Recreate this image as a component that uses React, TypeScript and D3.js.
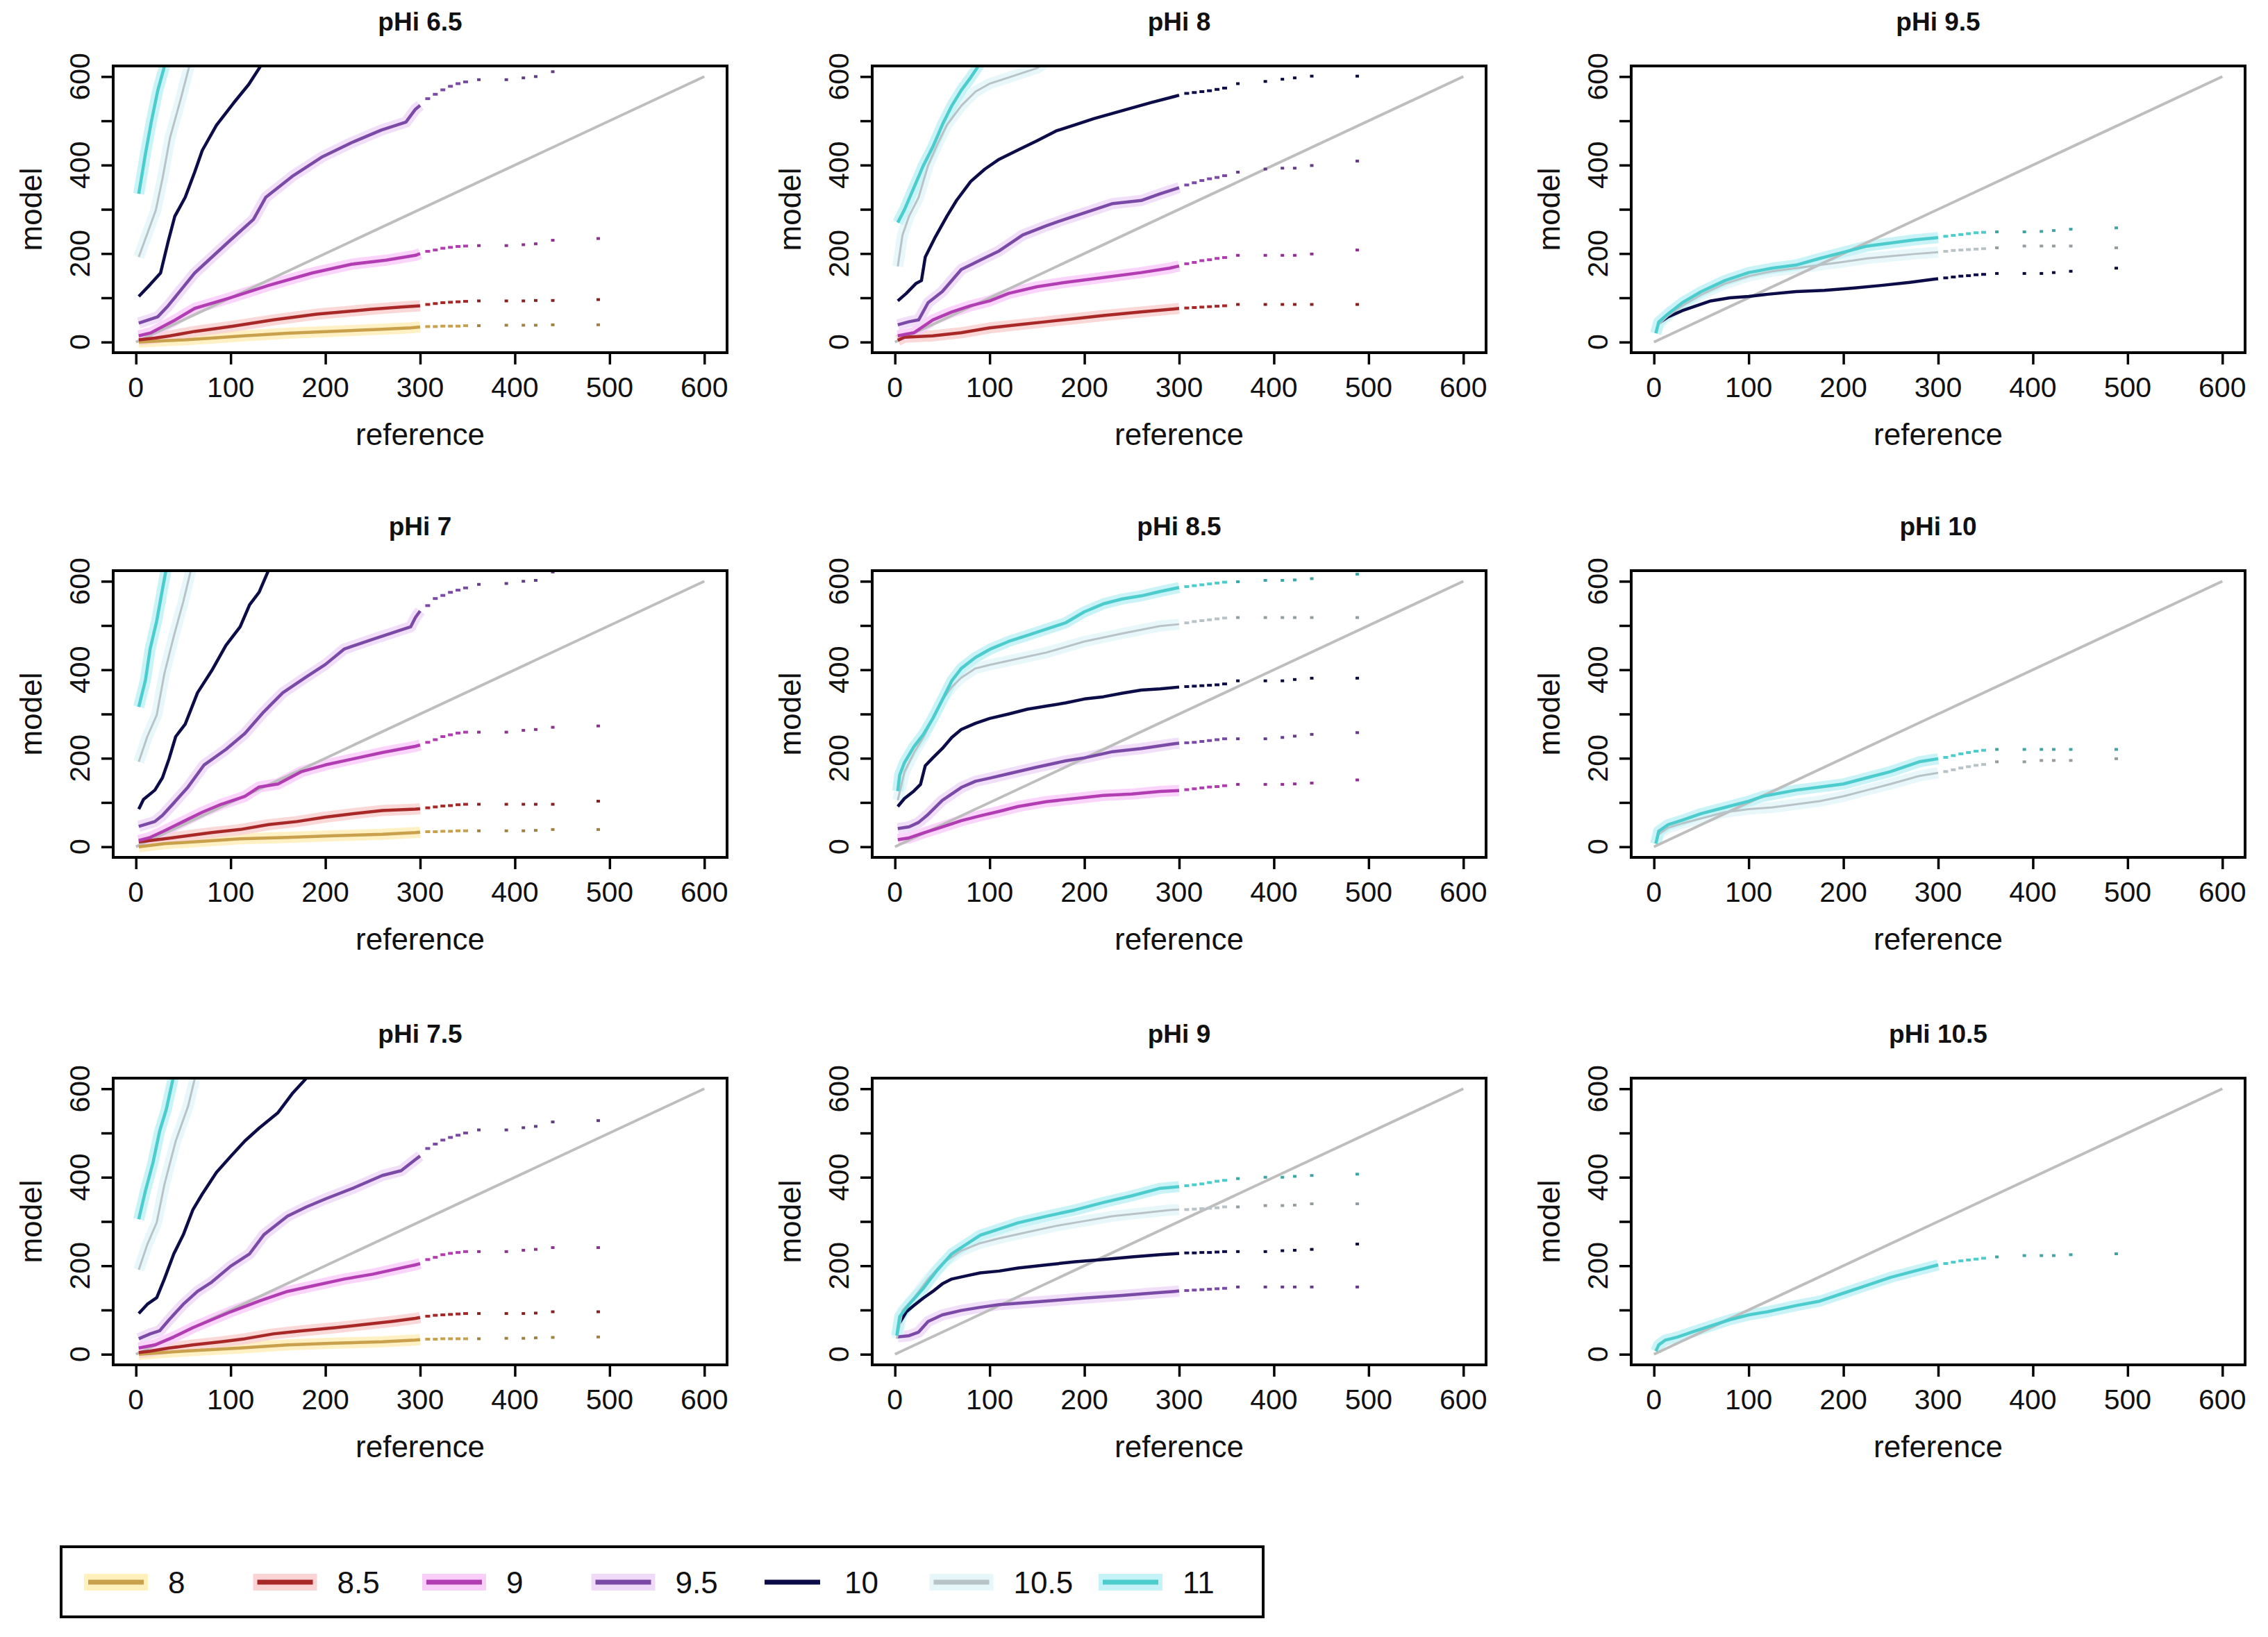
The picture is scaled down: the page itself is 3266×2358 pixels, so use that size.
import * as d3 from "d3";
import { useEffect, useRef } from "react";

type Pt = [number, number];
interface Series {
  ph: string;
  pts: Pt[];
  tail?: number[];
}

// pH levels shown in the legend and their colours
const phLevels = ["8", "8.5", "9", "9.5", "10", "10.5", "11"];
const lineColors = ["#C9A04C", "#A82828", "#B23CB2", "#7A4AA6", "#0C0C48", "#B8C3C8", "#4CCCCC"];
const haloColors = ["#FFF0BC", "#FAD4D4", "#F9CFF9", "#EFDAF7", "", "#E6F7FA", "#C4F2F6"];

// reference values of the sparse points beyond the solid part of each curve
const tailRef = [308, 316, 324, 332, 340, 348, 362, 391, 409, 422, 440, 488];

const xTicks = [0, 100, 200, 300, 400, 500, 600];
const yTicks = [0, 100, 200, 300, 400, 500, 600];
const yLabels = [0, 200, 400, 600];
const diagonal: Pt[] = [[0, 0], [600, 600]];

const pHi65: Series[] = [
  { ph: "8", pts: [[3, 0], [30, 3], [52, 5], [80, 9], [114, 14], [160, 20], [217, 25], [260, 29], [290, 32], [300, 34]], tail: [35, 35, 36, 36, 36, 37, 37, 38, 38, 38, 39, 39] },
  { ph: "8.5", pts: [[3, 5], [20, 9], [36, 14], [62, 24], [103, 36], [145, 50], [191, 63], [248, 74], [280, 79], [300, 82]], tail: [85, 87, 89, 90, 91, 92, 93, 93, 93, 94, 94, 96] },
  { ph: "9", pts: [[3, 14], [16, 21], [40, 48], [62, 76], [98, 99], [140, 128], [186, 156], [228, 176], [264, 185], [295, 196], [300, 200]], tail: [205, 208, 212, 214, 216, 217, 218, 218, 220, 222, 230, 234] },
  { ph: "9.5", pts: [[3, 43], [23, 57], [34, 82], [62, 156], [98, 227], [124, 277], [137, 327], [166, 376], [197, 419], [228, 451], [259, 479], [285, 497], [295, 526], [300, 535]], tail: [550, 560, 570, 578, 584, 588, 593, 593, 597, 600, 611, 624] },
  { ph: "10", pts: [[3, 103], [15, 130], [26, 156], [34, 227], [41, 284], [52, 327], [62, 384], [70, 433], [85, 490], [103, 540], [119, 582], [132, 625], [140, 660]] },
  { ph: "10.5", pts: [[3, 192], [12, 245], [21, 298], [28, 369], [36, 462], [47, 547], [57, 629], [62, 670]] },
  { ph: "11", pts: [[3, 335], [10, 425], [16, 495], [23, 568], [31, 630], [35, 670]] },
];

const pHi7: Series[] = [
  { ph: "8", pts: [[3, 0], [30, 7], [60, 11], [110, 18], [160, 21], [210, 25], [260, 28], [295, 32], [300, 33]], tail: [34, 34, 35, 35, 36, 36, 36, 36, 36, 37, 39, 39] },
  { ph: "8.5", pts: [[3, 11], [15, 14], [30, 18], [55, 25], [80, 32], [110, 39], [140, 50], [170, 57], [200, 67], [230, 75], [260, 82], [295, 85], [300, 86]], tail: [88, 90, 92, 93, 95, 96, 96, 96, 96, 96, 96, 103] },
  { ph: "9", pts: [[3, 14], [15, 21], [30, 36], [50, 57], [70, 78], [90, 96], [115, 114], [130, 135], [150, 142], [175, 170], [200, 185], [230, 199], [260, 213], [295, 227], [300, 230]], tail: [236, 242, 249, 253, 257, 259, 259, 259, 263, 265, 270, 273] },
  { ph: "9.5", pts: [[3, 46], [20, 57], [28, 71], [40, 99], [55, 135], [72, 185], [95, 220], [115, 256], [135, 305], [155, 348], [180, 384], [200, 412], [220, 447], [250, 469], [270, 483], [290, 497], [295, 518], [300, 533]], tail: [545, 561, 568, 575, 580, 585, 593, 595, 600, 602, 621, 626] },
  { ph: "10", pts: [[3, 85], [8, 107], [20, 128], [28, 156], [35, 199], [42, 249], [52, 277], [65, 348], [80, 398], [95, 455], [110, 497], [120, 547], [130, 575], [140, 625], [145, 660]] },
  { ph: "10.5", pts: [[3, 192], [12, 249], [22, 298], [30, 391], [40, 476], [50, 554], [58, 625], [62, 660]] },
  { ph: "11", pts: [[3, 316], [10, 376], [15, 447], [22, 511], [28, 582], [32, 628], [35, 660]] },
];

const pHi75: Series[] = [
  { ph: "8", pts: [[3, 0], [50, 7], [110, 14], [160, 21], [210, 25], [260, 28], [295, 32], [300, 33]], tail: [34, 34, 35, 35, 35, 35, 35, 36, 36, 37, 38, 39] },
  { ph: "8.5", pts: [[3, 4], [15, 7], [35, 14], [60, 21], [90, 28], [115, 35], [145, 46], [175, 53], [210, 60], [240, 67], [270, 74], [295, 81], [300, 83]], tail: [86, 88, 89, 90, 91, 92, 92, 92, 92, 93, 96, 96] },
  { ph: "9", pts: [[3, 14], [20, 21], [40, 39], [60, 60], [80, 78], [100, 96], [130, 120], [160, 142], [190, 156], [220, 170], [250, 181], [280, 195], [295, 202], [300, 205]], tail: [214, 219, 225, 228, 230, 232, 232, 232, 235, 237, 241, 241] },
  { ph: "9.5", pts: [[3, 35], [15, 46], [25, 53], [35, 78], [50, 113], [65, 142], [80, 163], [100, 199], [120, 227], [135, 270], [160, 312], [180, 333], [200, 351], [230, 376], [260, 404], [280, 415], [295, 440], [300, 448]], tail: [465, 475, 484, 490, 495, 500, 507, 507, 512, 515, 525, 528] },
  { ph: "10", pts: [[3, 92], [12, 113], [22, 128], [30, 170], [40, 227], [50, 270], [60, 326], [70, 362], [85, 411], [100, 447], [115, 482], [130, 511], [150, 546], [165, 589], [180, 624], [190, 660]] },
  { ph: "10.5", pts: [[3, 191], [12, 248], [22, 298], [30, 383], [42, 482], [55, 560], [63, 631], [66, 660]] },
  { ph: "11", pts: [[3, 305], [10, 369], [18, 433], [25, 504], [32, 553], [40, 631], [42, 660]] },
];

const pHi8: Series[] = [
  { ph: "8.5", pts: [[3, 4], [10, 11], [40, 14], [70, 21], [100, 32], [130, 39], [160, 46], [190, 53], [220, 60], [260, 68], [295, 75], [300, 76]], tail: [77, 78, 79, 80, 81, 82, 85, 85, 85, 85, 85, 85] },
  { ph: "9", pts: [[3, 14], [20, 21], [40, 50], [60, 68], [80, 82], [100, 93], [120, 110], [150, 125], [180, 135], [220, 146], [260, 157], [290, 167], [300, 172]], tail: [177, 180, 184, 186, 189, 191, 196, 196, 196, 196, 199, 208] },
  { ph: "9.5", pts: [[3, 39], [15, 46], [25, 50], [35, 89], [50, 114], [70, 164], [90, 185], [110, 206], [135, 242], [160, 263], [180, 278], [200, 292], [230, 313], [260, 320], [280, 335], [300, 349]], tail: [355, 360, 365, 369, 372, 376, 384, 391, 393, 393, 399, 409] },
  { ph: "10", pts: [[3, 93], [12, 110], [22, 132], [28, 139], [32, 192], [42, 235], [55, 285], [65, 320], [80, 363], [95, 391], [110, 413], [130, 434], [150, 455], [170, 477], [190, 491], [210, 505], [240, 523], [270, 541], [295, 555], [300, 558]], tail: [562, 564, 566, 568, 571, 574, 584, 589, 594, 597, 601, 601] },
  { ph: "10.5", pts: [[3, 171], [8, 242], [15, 285], [25, 327], [35, 399], [45, 448], [55, 491], [70, 534], [85, 566], [100, 584], [120, 598], [150, 619], [165, 640]] },
  { ph: "11", pts: [[3, 270], [10, 299], [20, 349], [30, 399], [40, 441], [50, 491], [60, 534], [70, 569], [80, 598], [90, 630], [95, 660]] },
];

const pHi85: Series[] = [
  { ph: "9", pts: [[3, 16], [15, 20], [30, 31], [50, 45], [70, 59], [90, 70], [110, 80], [130, 91], [160, 102], [190, 109], [220, 116], [250, 119], [280, 125], [300, 127]], tail: [129, 131, 133, 135, 136, 138, 141, 141, 141, 142, 144, 151] },
  { ph: "9.5", pts: [[3, 41], [15, 45], [25, 55], [35, 73], [50, 105], [70, 134], [85, 148], [100, 155], [120, 165], [150, 180], [180, 194], [200, 201], [230, 215], [260, 222], [295, 233], [300, 234]], tail: [235, 236, 238, 240, 242, 244, 244, 244, 247, 250, 254, 258] },
  { ph: "10", pts: [[3, 91], [10, 109], [20, 126], [27, 141], [32, 183], [40, 201], [50, 222], [60, 247], [70, 265], [85, 279], [100, 290], [120, 300], [140, 311], [160, 318], [180, 325], [200, 334], [220, 339], [240, 347], [260, 354], [280, 357], [300, 361]], tail: [362, 363, 364, 365, 366, 368, 375, 375, 375, 378, 381, 381] },
  { ph: "10.5", pts: [[3, 105], [10, 169], [20, 212], [30, 247], [40, 290], [50, 332], [60, 361], [70, 382], [85, 403], [100, 411], [130, 425], [160, 439], [200, 464], [240, 482], [280, 499], [300, 503]], tail: [506, 509, 511, 513, 515, 517, 518, 518, 518, 518, 518, 518] },
  { ph: "11", pts: [[3, 126], [5, 162], [10, 190], [20, 226], [30, 254], [40, 290], [50, 332], [60, 375], [70, 403], [85, 428], [100, 446], [120, 464], [140, 478], [160, 492], [180, 506], [200, 531], [220, 549], [240, 560], [260, 567], [280, 577], [300, 586]], tail: [588, 590, 592, 594, 596, 598, 599, 602, 602, 603, 606, 616] },
];

const pHi9: Series[] = [
  { ph: "9.5", pts: [[3, 39], [15, 42], [25, 50], [35, 74], [50, 89], [70, 99], [90, 106], [110, 112], [140, 117], [170, 122], [200, 127], [240, 133], [270, 138], [295, 142], [300, 143]], tail: [144, 145, 146, 147, 148, 149, 152, 152, 152, 152, 152, 152] },
  { ph: "10", pts: [[5, 71], [12, 96], [20, 110], [30, 127], [40, 142], [50, 159], [60, 170], [75, 177], [90, 184], [110, 188], [130, 195], [160, 202], [190, 209], [220, 214], [250, 220], [280, 225], [300, 228]], tail: [229, 229, 230, 230, 231, 232, 232, 232, 234, 235, 237, 249] },
  { ph: "10.5", pts: [[2, 35], [8, 99], [20, 127], [35, 170], [50, 205], [70, 234], [90, 251], [110, 262], [140, 276], [170, 290], [200, 301], [230, 312], [260, 319], [290, 326], [300, 327]], tail: [327, 328, 329, 330, 331, 333, 333, 336, 336, 337, 340, 340] },
  { ph: "11", pts: [[2, 42], [5, 85], [15, 113], [30, 149], [45, 191], [60, 227], [75, 248], [90, 269], [110, 283], [130, 297], [160, 312], [190, 326], [220, 343], [250, 358], [280, 375], [300, 379]], tail: [381, 383, 385, 388, 391, 393, 397, 400, 400, 402, 404, 407] },
];

const pHi95: Series[] = [
  { ph: "10", pts: [[5, 43], [15, 57], [30, 71], [45, 82], [60, 93], [80, 100], [100, 103], [120, 108], [150, 114], [180, 117], [210, 122], [240, 128], [270, 135], [295, 142], [300, 143]], tail: [145, 147, 149, 150, 152, 153, 155, 155, 155, 157, 160, 167] },
  { ph: "10.5", pts: [[2, 20], [5, 40], [15, 60], [30, 82], [50, 107], [75, 132], [100, 149], [125, 160], [150, 167], [175, 174], [200, 181], [225, 189], [250, 194], [275, 199], [300, 203]], tail: [205, 207, 208, 209, 210, 211, 213, 217, 217, 217, 217, 213] },
  { ph: "11", pts: [[2, 20], [5, 45], [15, 64], [30, 89], [50, 114], [75, 139], [100, 157], [125, 167], [150, 174], [175, 189], [200, 203], [225, 217], [250, 224], [275, 231], [300, 236]], tail: [239, 241, 243, 245, 247, 248, 249, 249, 250, 252, 255, 258] },
];

const pHi10: Series[] = [
  { ph: "10.5", pts: [[2, 7], [5, 28], [15, 43], [30, 53], [50, 64], [75, 78], [100, 85], [125, 89], [150, 96], [175, 103], [200, 114], [225, 128], [250, 142], [280, 160], [300, 167]], tail: [170, 174, 178, 181, 184, 186, 192, 192, 195, 195, 195, 199] },
  { ph: "11", pts: [[2, 7], [5, 35], [15, 50], [30, 60], [50, 75], [75, 89], [100, 103], [115, 114], [150, 128], [175, 135], [200, 142], [225, 156], [250, 170], [280, 192], [300, 199]], tail: [202, 206, 210, 213, 216, 218, 220, 220, 220, 220, 220, 220] },
];

const pHi105: Series[] = [
  { ph: "11", pts: [[2, 7], [5, 21], [12, 32], [25, 39], [40, 50], [60, 64], [80, 78], [100, 89], [120, 96], [150, 110], [175, 120], [200, 138], [225, 156], [250, 174], [275, 188], [300, 202]], tail: [205, 208, 211, 213, 215, 217, 220, 223, 223, 223, 225, 227] },
];

// column-major, as in the figure
const panelTitles = ["pHi 6.5", "pHi 7", "pHi 7.5", "pHi 8", "pHi 8.5", "pHi 9", "pHi 9.5", "pHi 10", "pHi 10.5"];
const panelSeries = [pHi65, pHi7, pHi75, pHi8, pHi85, pHi9, pHi95, pHi10, pHi105];

const FONT = "'Liberation Sans', Arial, sans-serif";

export default function App() {
  const ref = useRef<SVGSVGElement>(null);
  const width = 3266;
  const height = 2358;
  const colLeft = [163, 1256, 2349];
  const rowTop = [95, 822, 1553];
  const boxW = 884;
  const boxH = 413;

  useEffect(() => {
    document.body.style.margin = "0";
    if (!ref.current) return;
    const svg = d3.select(ref.current);
    svg.selectAll("*").remove();

    svg.append("rect").attr("width", width).attr("height", height).attr("fill", "#fff");

    const x = d3.scaleLinear().domain([-24, 624]).range([0, boxW]);
    const y = d3.scaleLinear().domain([-24, 624]).range([boxH, 0]);
    const line = d3
      .line<Pt>()
      .x((d) => x(d[0]))
      .y((d) => y(d[1]));
    const colorOf = (ph: string) => lineColors[phLevels.indexOf(ph)];
    const haloOf = (ph: string) => haloColors[phLevels.indexOf(ph)];
    const dotOf = (ph: string) => d3.color(colorOf(ph))!.darker(0.6).formatHex();

    panelTitles.forEach((title, i) => {
      const col = Math.floor(i / 3);
      const row = i % 3;
      const series = panelSeries[i];
      const g = svg.append("g").attr("transform", `translate(${colLeft[col]},${rowTop[row]})`);

      g.append("clipPath")
        .attr("id", `clip-${i}`)
        .append("rect")
        .attr("width", boxW)
        .attr("height", boxH);

      const plot = g.append("g").attr("clip-path", `url(#clip-${i})`);

      // pale bands behind the curves
      plot
        .selectAll(".halo")
        .data(series.filter((s) => haloOf(s.ph)))
        .join("path")
        .attr("class", "halo")
        .attr("d", (s) => line(s.pts.filter((p) => p[0] <= 300)))
        .attr("fill", "none")
        .attr("stroke", (s) => haloOf(s.ph))
        .attr("stroke-width", 16)
        .attr("stroke-linejoin", "round")
        .attr("opacity", 0.9);

      // 1:1 line
      plot
        .append("path")
        .datum(diagonal)
        .attr("d", line)
        .attr("fill", "none")
        .attr("stroke", "#BEBEBE")
        .attr("stroke-width", 4);

      plot
        .selectAll(".curve")
        .data(series)
        .join("path")
        .attr("class", "curve")
        .attr("d", (s) => line(s.pts))
        .attr("fill", "none")
        .attr("stroke", (s) => colorOf(s.ph))
        .attr("stroke-width", (s) => (s.ph === "10.5" ? 3 : 4.5))
        .attr("stroke-linejoin", "round");

      // sparse upper quantiles: short dashes then isolated dots
      series.forEach((s) => {
        if (!s.tail) return;
        const pts: Pt[] = s.tail.map((v, k) => [tailRef[k], v]);
        plot
          .append("g")
          .selectAll("rect")
          .data(pts)
          .join("rect")
          .attr("x", (d) => x(d[0]) - (d[0] < 350 ? 3.5 : 2.5))
          .attr("y", (d) => y(d[1]) - 2)
          .attr("width", (d) => (d[0] < 350 ? 7 : 5))
          .attr("height", 4)
          .attr("fill", (d) => (d[0] < 350 ? colorOf(s.ph) : dotOf(s.ph)));
      });

      // axes
      const xAxis = g
        .append("g")
        .attr("transform", `translate(0,${boxH})`)
        .call(d3.axisBottom(x).tickValues(xTicks).tickSize(17).tickSizeOuter(0).tickFormat(() => ""));
      xAxis.select(".domain").remove();
      xAxis.selectAll(".tick line").attr("stroke", "#000").attr("stroke-width", 3.5);

      const yAxis = g
        .append("g")
        .call(d3.axisLeft(y).tickValues(yTicks).tickSize(17).tickSizeOuter(0).tickFormat(() => ""));
      yAxis.select(".domain").remove();
      yAxis.selectAll(".tick line").attr("stroke", "#000").attr("stroke-width", 3.5);

      g.append("g")
        .selectAll("text")
        .data(xTicks)
        .join("text")
        .attr("x", (d) => x(d))
        .attr("y", boxH + 50)
        .attr("text-anchor", "middle")
        .attr("dominant-baseline", "central")
        .attr("font-family", FONT)
        .attr("font-size", 41)
        .attr("fill", "#111")
        .text((d) => String(d));

      g.append("g")
        .selectAll("text")
        .data(yLabels)
        .join("text")
        .attr("transform", (d) => `translate(-48,${y(d)}) rotate(-90)`)
        .attr("text-anchor", "middle")
        .attr("dominant-baseline", "central")
        .attr("font-family", FONT)
        .attr("font-size", 41)
        .attr("fill", "#111")
        .text((d) => String(d));

      g.append("rect")
        .attr("width", boxW)
        .attr("height", boxH)
        .attr("fill", "none")
        .attr("stroke", "#000")
        .attr("stroke-width", 4);

      g.append("text")
        .attr("x", boxW / 2)
        .attr("y", -64)
        .attr("text-anchor", "middle")
        .attr("dominant-baseline", "central")
        .attr("font-family", FONT)
        .attr("font-weight", "bold")
        .attr("font-size", 37)
        .attr("fill", "#111")
        .text(title);

      g.append("text")
        .attr("x", boxW / 2)
        .attr("y", boxH + 117)
        .attr("text-anchor", "middle")
        .attr("dominant-baseline", "central")
        .attr("font-family", FONT)
        .attr("font-size", 44)
        .attr("fill", "#111")
        .text("reference");

      g.append("text")
        .attr("transform", `translate(-119,${boxH / 2}) rotate(-90)`)
        .attr("text-anchor", "middle")
        .attr("dominant-baseline", "central")
        .attr("font-family", FONT)
        .attr("font-size", 44)
        .attr("fill", "#111")
        .text("model");
    });

    // legend
    const legend = svg.append("g");
    legend
      .append("rect")
      .attr("x", 88)
      .attr("y", 2228)
      .attr("width", 1731)
      .attr("height", 101)
      .attr("fill", "none")
      .attr("stroke", "#000")
      .attr("stroke-width", 4);

    const item = legend
      .selectAll("g")
      .data(phLevels)
      .join("g")
      .attr("transform", (_, i) => `translate(${127 + i * 243.5},2279)`);

    item
      .filter((d) => !!haloOf(d))
      .append("rect")
      .attr("x", -6)
      .attr("y", -12)
      .attr("width", 92)
      .attr("height", 24)
      .attr("fill", (d) => haloOf(d));

    item
      .append("line")
      .attr("x1", 0)
      .attr("x2", 80)
      .attr("stroke", (d) => colorOf(d))
      .attr("stroke-width", 7);

    item
      .append("text")
      .attr("x", 115)
      .attr("dominant-baseline", "central")
      .attr("font-family", FONT)
      .attr("font-size", 44)
      .attr("fill", "#111")
      .text((d) => d);
  }, []);

  return <svg ref={ref} width={width} height={height} style={{ display: "block" }} />;
}
